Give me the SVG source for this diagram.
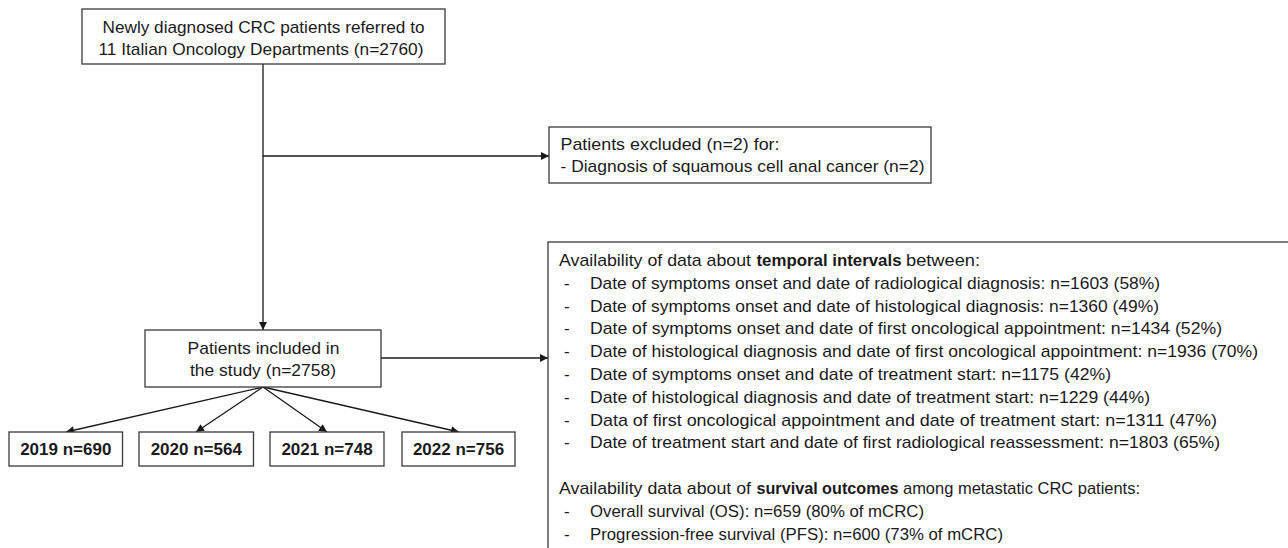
<svg xmlns="http://www.w3.org/2000/svg" width="1288" height="548" viewBox="0 0 1288 548">
<style>
.box{fill:#fff;stroke:#3a3a3a;stroke-width:1.3}
.t{font-family:"Liberation Sans",Arial,sans-serif;font-size:17px;fill:#1a1a1a}
.b{font-weight:bold}
.yr{font-family:"Liberation Sans",Arial,sans-serif;font-size:17px;font-weight:bold;fill:#1a1a1a;text-anchor:middle}
.c{stroke:#1a1a1a;stroke-width:1.3;fill:none;marker-end:url(#ah)}
</style>
<defs>
<marker id="ah" viewBox="0 0 10 10" refX="10" refY="5" markerUnits="userSpaceOnUse" markerWidth="9" markerHeight="8" orient="auto">
<path d="M0,0 L10,5 L0,10 z" fill="#1a1a1a"/>
</marker>
</defs>
<rect width="1288" height="548" fill="#fff"/>
<g id="connectors">
<line class="c" x1="263" y1="64" x2="263" y2="330"/>
<line class="c" x1="263" y1="156" x2="549" y2="156"/>
<line class="c" x1="381" y1="358" x2="548" y2="358"/>
<line class="c" x1="263" y1="387" x2="66" y2="432"/>
<line class="c" x1="263" y1="387" x2="196" y2="432"/>
<line class="c" x1="263" y1="387" x2="327" y2="432"/>
<line class="c" x1="263" y1="387" x2="459" y2="432"/>
</g>
<g id="source">
<rect class="box" x="82" y="9" width="363" height="55"/>
<text class="t" x="102.5" y="32.5" textLength="322" lengthAdjust="spacingAndGlyphs">Newly diagnosed CRC patients referred to</text>
<text class="t" x="98.5" y="54.5" textLength="325" lengthAdjust="spacingAndGlyphs">11 Italian Oncology Departments (n=2760)</text>
</g>
<g id="excluded">
<rect class="box" x="549" y="127" width="382" height="56"/>
<text class="t" x="560.5" y="149.5" textLength="219" lengthAdjust="spacingAndGlyphs">Patients excluded (n=2) for:</text>
<text class="t" x="560.5" y="172" textLength="364" lengthAdjust="spacingAndGlyphs">- Diagnosis of squamous cell anal cancer (n=2)</text>
</g>
<g id="included">
<rect class="box" x="145" y="330" width="236" height="57"/>
<text class="t" x="187.5" y="353.5" textLength="152" lengthAdjust="spacingAndGlyphs">Patients included in</text>
<text class="t" x="190" y="376" textLength="146" lengthAdjust="spacingAndGlyphs">the study (n=2758)</text>
</g>
<g id="y2019">
<rect class="box" x="9" y="432" width="113.5" height="34"/>
<text class="yr" x="65.75" y="455">2019 n=690</text>
</g>
<g id="y2020">
<rect class="box" x="139" y="432" width="114.5" height="34"/>
<text class="yr" x="196.25" y="455">2020 n=564</text>
</g>
<g id="y2021">
<rect class="box" x="270" y="432" width="114" height="34"/>
<text class="yr" x="327" y="455">2021 n=748</text>
</g>
<g id="y2022">
<rect class="box" x="402" y="432" width="113" height="34"/>
<text class="yr" x="458.5" y="455">2022 n=756</text>
</g>
<g id="availability">
<rect class="box" x="548" y="242" width="780" height="340"/>
<text class="t" x="559" y="266" textLength="192" lengthAdjust="spacingAndGlyphs">Availability of data about</text>
<text class="t b" x="756.5" y="266" textLength="145" lengthAdjust="spacingAndGlyphs">temporal intervals</text>
<text class="t" x="906" y="266" textLength="74" lengthAdjust="spacingAndGlyphs">between:</text>
<g class="t">
<text x="564" y="288.8">-</text>
<text x="564" y="311.6">-</text>
<text x="564" y="334.4">-</text>
<text x="564" y="357.2">-</text>
<text x="564" y="380">-</text>
<text x="564" y="402.8">-</text>
<text x="564" y="425.6">-</text>
<text x="564" y="448.4">-</text>
<text x="564" y="516.8">-</text>
<text x="564" y="539.6">-</text>
</g>
<text class="t" x="590" y="288.8" textLength="570" lengthAdjust="spacingAndGlyphs">Date of symptoms onset and date of radiological diagnosis: n=1603 (58%)</text>
<text class="t" x="590" y="311.6" textLength="569" lengthAdjust="spacingAndGlyphs">Date of symptoms onset and date of histological diagnosis: n=1360 (49%)</text>
<text class="t" x="590" y="334.4" textLength="632" lengthAdjust="spacingAndGlyphs">Date of symptoms onset and date of first oncological appointment: n=1434 (52%)</text>
<text class="t" x="590" y="357.2" textLength="668" lengthAdjust="spacingAndGlyphs">Date of histological diagnosis and date of first oncological appointment: n=1936 (70%)</text>
<text class="t" x="590" y="380" textLength="521" lengthAdjust="spacingAndGlyphs">Date of symptoms onset and date of treatment start: n=1175 (42%)</text>
<text class="t" x="590" y="402.8" textLength="560" lengthAdjust="spacingAndGlyphs">Date of histological diagnosis and date of treatment start: n=1229 (44%)</text>
<text class="t" x="590" y="425.6" textLength="627" lengthAdjust="spacingAndGlyphs">Data of first oncological appointment and date of treatment start: n=1311 (47%)</text>
<text class="t" x="590" y="448.4" textLength="630" lengthAdjust="spacingAndGlyphs">Date of treatment start and date of first radiological reassessment: n=1803 (65%)</text>
<text class="t" x="559" y="494" textLength="192" lengthAdjust="spacingAndGlyphs">Availability data about of</text>
<text class="t b" x="756.5" y="494" textLength="142" lengthAdjust="spacingAndGlyphs">survival outcomes</text>
<text class="t" x="903" y="494" textLength="237" lengthAdjust="spacingAndGlyphs">among metastatic CRC patients:</text>
<text class="t" x="590" y="516.8" textLength="334" lengthAdjust="spacingAndGlyphs">Overall survival (OS): n=659 (80% of mCRC)</text>
<text class="t" x="590" y="539.6" textLength="413" lengthAdjust="spacingAndGlyphs">Progression-free survival (PFS): n=600 (73% of mCRC)</text>
</g>
</svg>
